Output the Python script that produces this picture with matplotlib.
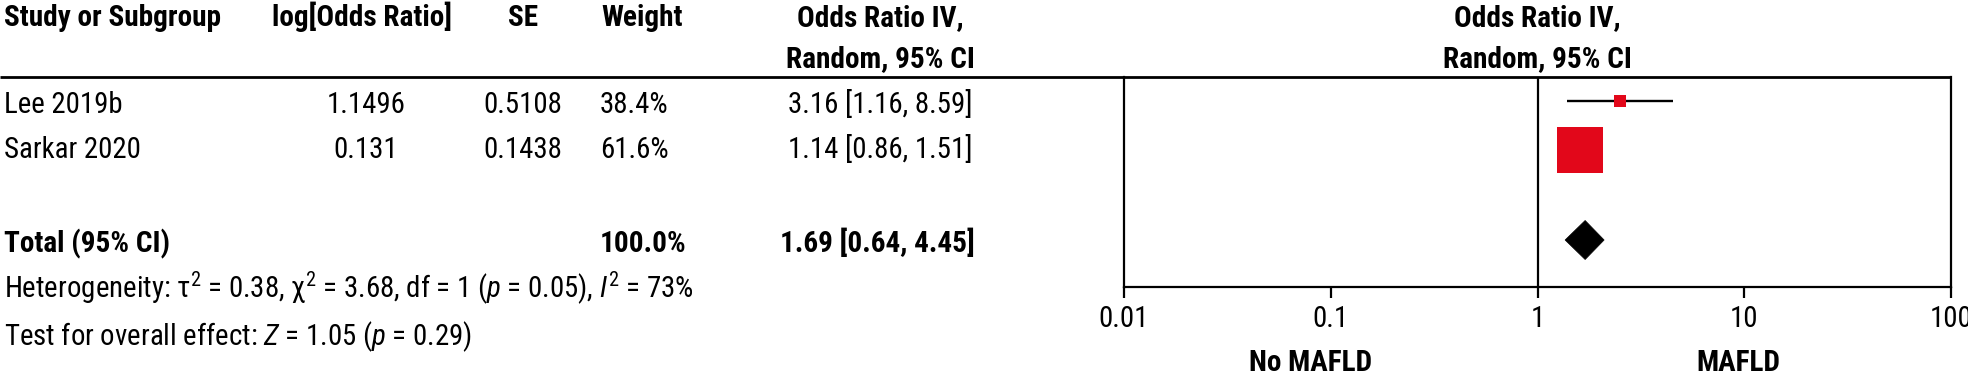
import numpy as np
import matplotlib
matplotlib.use("Agg")
import matplotlib.pyplot as plt
from matplotlib import font_manager as fm
from matplotlib.patches import Polygon
from matplotlib.transforms import blended_transform_factory

# ---------------- data ----------------
studies = ["Lee 2019b", "Sarkar 2020"]
log_or_text = ["1.1496", "0.131"]
se_text = ["0.5108", "0.1438"]
weight_text = ["38.4%", "61.6%"]
or_ci_text = ["3.16 [1.16, 8.59]", "1.14 [0.86, 1.51]"]
total_label = "Total (95% CI)"
total_weight_text = "100.0%"
total_ci_text = "1.69 [0.64, 4.45]"
heterogeneity_text = ("Heterogeneity: τ$^2$ = 0.38, χ$^2$ = 3.68, df = 1 "
                      "($\\mathit{p}$ = 0.05), $\\mathit{I}^2$ = 73%")
overall_text = "Test for overall effect: $\\mathit{Z}$ = 1.05 ($\\mathit{p}$ = 0.29)"
headers = ["Study or Subgroup", "log[Odds Ratio]", "SE", "Weight",
           "Odds Ratio IV,", "Random, 95% CI"]

# values as drawn in the forest panel
study_or = [2.51, 1.61]
study_lo = [1.39, np.nan]
study_hi = [4.52, np.nan]
total_or = 1.70
total_lo = 1.36
total_hi = 2.10
xticks = [0.01, 0.1, 1, 10, 100]
xtick_labels = ["0.01", "0.1", "1", "10", "100"]
favours = ["No MAFLD", "MAFLD"]
favours_x = [10 ** -1.1, 10 ** 0.97]

# ---------------- font choice ----------------
entries = fm.fontManager.ttflist
names = {f.name for f in entries}
condensed_names = [f.name for f in entries
                   if ("Narrow" in f.name or "Condensed" in f.name
                       or str(f.stretch) in ("condensed", "semi-condensed",
                                             "extra-condensed", "ultra-condensed"))]
preferred = ["Liberation Sans Narrow", "Roboto Condensed", "Open Sans Condensed",
             "DejaVu Sans Condensed", "Noto Sans Condensed"]
family = None
for p in preferred:
    if p in names:
        family = p
        break
if family is None and condensed_names:
    family = condensed_names[0]
stretch = "normal"
if family is None:
    if any(f.name == "DejaVu Sans" and str(f.stretch) != "normal" for f in entries):
        family, stretch = "DejaVu Sans", "condensed"
    else:
        for p in ["Roboto", "Liberation Sans", "Lato", "Inter", "DejaVu Sans"]:
            if p in names:
                family = p
                break

plt.rcParams["font.family"] = [family, "DejaVu Sans"]
plt.rcParams["font.stretch"] = stretch
plt.rcParams["mathtext.fontset"] = "custom"
plt.rcParams["mathtext.rm"] = family
plt.rcParams["mathtext.it"] = family + ":italic"
plt.rcParams["mathtext.bf"] = family + ":bold"

# ---------------- style / layout ----------------
W, H, DPI = 1968, 375, 100
RED = "#E2071A"

row_y = [101, 149.5]
total_y = 240
text_base = [113, 158]
total_base = 252
het_base = 298
overall_base = 345
hdr1, hdr2 = 26, 67
line_y = 77
ax_left, ax_right, ax_bottom = 1124, 1951, 287

fig = plt.figure(figsize=(W / DPI, H / DPI), dpi=DPI)
renderer = fig.canvas.get_renderer()


def fit_size(targets, weight):
    r = []
    for s, px in targets:
        t = fig.text(0, 0, s, fontsize=20, weight=weight)
        r.append(px / t.get_window_extent(renderer).width)
        t.remove()
    return 20 * float(np.mean(r))


FS_B = fit_size([("Study or Subgroup", 216), (total_ci_text, 195), ("Weight", 79),
                 ("Random, 95% CI", 193)], "bold")
FS = fit_size([("Lee 2019b", 116), ("Sarkar 2020", 132),
               ("3.16 [1.16, 8.59]", 187), ("1.1496", 77), ("0.5108", 83),
               (overall_text, 456), (heterogeneity_text, 721)], "normal")

bg = fig.add_axes([0, 0, 1, 1])
bg.set_xlim(0, W)
bg.set_ylim(H, 0)
bg.axis("off")

fx = fig.add_axes([ax_left / W, (H - ax_bottom) / H,
                   (ax_right - ax_left) / W, (ax_bottom - line_y) / H])
fx.set_xscale("log")
fx.set_xlim(xticks[0], xticks[-1])
fx.set_ylim(ax_bottom, line_y)
fx.patch.set_alpha(0)
for s in ["left", "right", "bottom"]:
    fx.spines[s].set_linewidth(1.6)
fx.spines["top"].set_visible(False)
fx.set_yticks([])
fx.set_xticks(xticks)
fx.set_xticklabels(xtick_labels, fontsize=FS)
fx.xaxis.set_minor_locator(matplotlib.ticker.NullLocator())
fx.tick_params(axis="x", direction="out", length=8, width=1.6, pad=5)
fx.axvline(1, color="black", lw=1.6)

# header line across the table and plot
bg.plot([0, ax_right], [line_y, line_y], color="black", lw=2.0,
        solid_capstyle="butt")

# headers
bg.text(4, hdr1, headers[0], fontsize=FS_B, weight="bold", va="baseline", ha="left")
bg.text(362, hdr1, headers[1], fontsize=FS_B, weight="bold", va="baseline", ha="center")
bg.text(523, hdr1, headers[2], fontsize=FS_B, weight="bold", va="baseline", ha="center")
bg.text(642, hdr1, headers[3], fontsize=FS_B, weight="bold", va="baseline", ha="center")
bg.text(880, hdr1, headers[4], fontsize=FS_B, weight="bold", va="baseline", ha="center")
bg.text(880, hdr2, headers[5], fontsize=FS_B, weight="bold", va="baseline", ha="center")
tr = blended_transform_factory(fx.transData, bg.transData)
bg.text(1, hdr1, headers[4], fontsize=FS_B, weight="bold", va="baseline", ha="center",
        transform=tr)
bg.text(1, hdr2, headers[5], fontsize=FS_B, weight="bold", va="baseline", ha="center",
        transform=tr)

# study rows
for i, name in enumerate(studies):
    yb = text_base[i]
    bg.text(4, yb, name, fontsize=FS, va="baseline", ha="left")
    bg.text(366, yb, log_or_text[i], fontsize=FS, va="baseline", ha="center")
    bg.text(523, yb, se_text[i], fontsize=FS, va="baseline", ha="center")
    bg.text(600, yb, weight_text[i], fontsize=FS, va="baseline", ha="left")
    bg.text(973, yb, or_ci_text[i], fontsize=FS, va="baseline", ha="right")

# total row
bg.text(4, total_base, total_label, fontsize=FS_B, weight="bold", va="baseline", ha="left")
bg.text(600, total_base, total_weight_text, fontsize=FS_B, weight="bold",
        va="baseline", ha="left")
bg.text(975, total_base, total_ci_text, fontsize=FS_B, weight="bold",
        va="baseline", ha="right")
bg.text(4, het_base, heterogeneity_text, fontsize=FS, va="baseline", ha="left")
bg.text(4, overall_base, overall_text, fontsize=FS, va="baseline", ha="left")

# forest marks
box_sizes_pt = [8.6, 33.5]
for i in range(len(studies)):
    if not np.isnan(study_lo[i]):
        fx.plot([study_lo[i], study_hi[i]], [row_y[i], row_y[i]],
                color="black", lw=1.7, solid_capstyle="butt", zorder=2)
    fx.scatter([study_or[i]], [row_y[i]], marker="s", s=box_sizes_pt[i] ** 2,
               color=RED, linewidths=0, zorder=3)

dh = 19.5
diamond = Polygon([[total_lo, total_y], [total_or, total_y - dh],
                   [total_hi, total_y], [total_or, total_y + dh]],
                  closed=True, facecolor="black", edgecolor="black", lw=0.5)
fx.add_patch(diamond)

# favours labels
for lbl, xv in zip(favours, favours_x):
    bg.text(xv, 371, lbl, fontsize=FS_B, weight="bold", va="baseline", ha="center",
            transform=tr)

fig.savefig("out.png", dpi=DPI)
